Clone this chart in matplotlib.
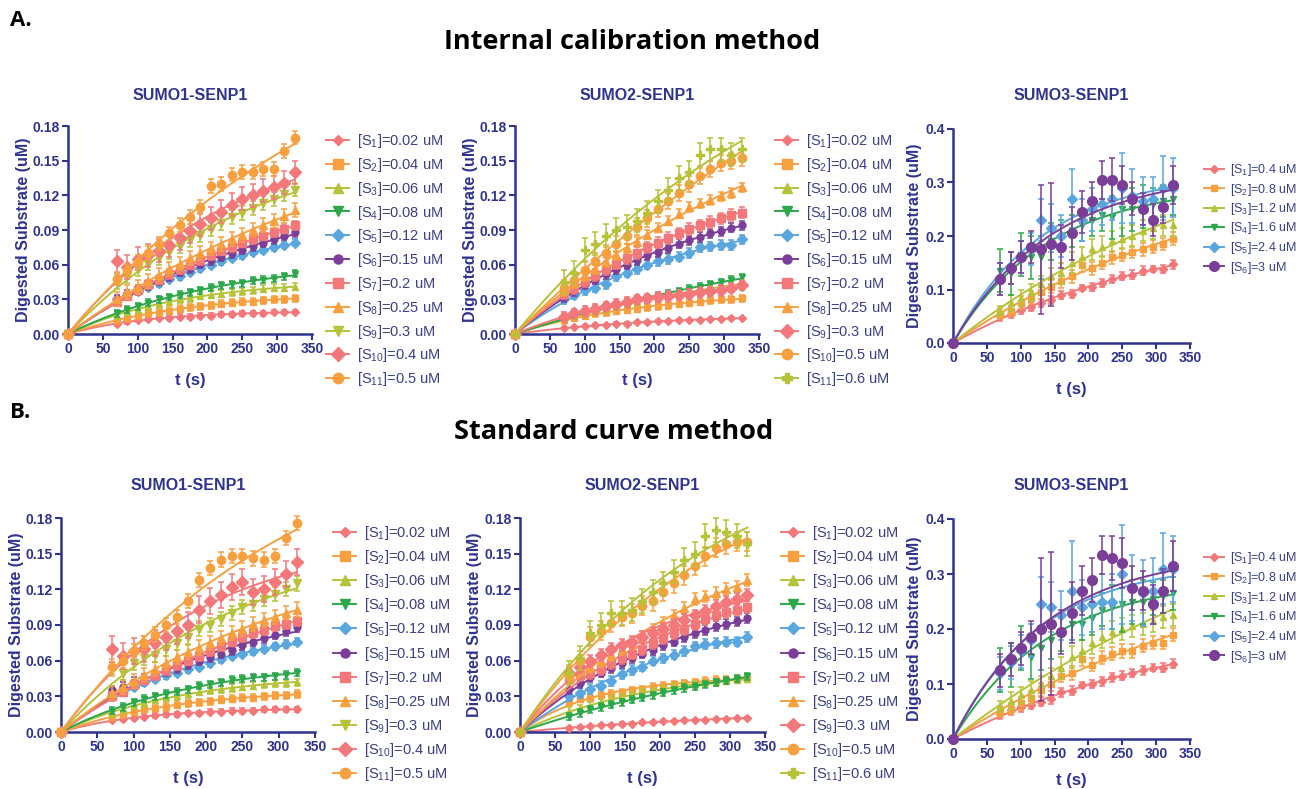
import numpy as np
import matplotlib
matplotlib.use('Agg')
import matplotlib.pyplot as plt

plt.rcParams['font.family'] = ['Liberation Sans', 'DejaVu Sans']
plt.rcParams['mathtext.fontset'] = 'custom'
plt.rcParams['mathtext.rm'] = 'Liberation Sans'
plt.rcParams['mathtext.default'] = 'regular'

NAVY = '#2f3390'
PINK = '#f4787a'
ORANGE = '#f8a040'
YGREEN = '#b6c237'
GREEN = '#2aa84a'
BLUE = '#5aa6de'
PURPLE = '#7a3e98'

# sampling times (s)
t = [0, 70, 85, 100, 115, 130, 145, 160, 175, 190, 205, 220, 235, 250, 265, 280, 295, 310, 325]

# substrate concentrations (uM)
conc_sumo1 = ['0.02', '0.04', '0.06', '0.08', '0.12', '0.15', '0.2', '0.25', '0.3', '0.4', '0.5']
conc_sumo2 = ['0.02', '0.04', '0.06', '0.08', '0.12', '0.15', '0.2', '0.25', '0.3', '0.5', '0.6']
conc_sumo3 = ['0.4', '0.8', '1.2', '1.6', '2.4', '3']

mk_sumo1 = ['D', 's', '^', 'v', 'D', 'o', 's', '^', 'v', 'D', 'o']
col_sumo1 = [PINK, ORANGE, YGREEN, GREEN, BLUE, PURPLE, PINK, ORANGE, YGREEN, PINK, ORANGE]
mk_sumo2 = ['D', 's', '^', 'v', 'D', 'o', 's', '^', 'D', 'o', 'P']
col_sumo2 = [PINK, ORANGE, YGREEN, GREEN, BLUE, PURPLE, PINK, ORANGE, PINK, ORANGE, YGREEN]
mk_sumo3 = ['D', 's', '^', 'v', 'D', 'o']
col_sumo3 = [PINK, ORANGE, YGREEN, GREEN, BLUE, PURPLE]

# A. internal calibration, SUMO1
a1_y = [
    [0, .009, .011, .012, .013, .014, .014, .015, .015, .016, .016, .017, .017, .018, .018, .018, .019, .019, .019],
    [0, .012, .014, .016, .018, .019, .020, .022, .023, .024, .025, .026, .027, .028, .028, .029, .030, .030, .031],
    [0, .016, .019, .021, .024, .026, .028, .030, .031, .033, .034, .035, .036, .037, .038, .039, .040, .040, .041],
    [0, .018, .021, .024, .027, .030, .032, .034, .036, .038, .040, .042, .043, .044, .046, .047, .048, .050, .052],
    [0, .030, .034, .037, .041, .044, .048, .050, .054, .057, .060, .063, .066, .068, .071, .073, .075, .077, .079],
    [0, .030, .034, .038, .042, .046, .050, .054, .057, .061, .064, .067, .070, .073, .076, .079, .082, .085, .088],
    [0, .028, .033, .038, .043, .047, .052, .056, .060, .064, .068, .072, .075, .079, .082, .085, .088, .091, .094],
    [0, .030, .036, .041, .046, .051, .056, .061, .066, .070, .074, .078, .082, .086, .090, .094, .098, .102, .107],
    [0, .045, .050, .056, .061, .066, .071, .076, .081, .086, .091, .096, .101, .105, .109, .113, .117, .121, .125],
    [0, .063, .058, .065, .068, .072, .077, .083, .089, .095, .100, .106, .112, .117, .120, .124, .127, .131, .140],
    [0, .048, .055, .062, .070, .078, .087, .094, .101, .110, .128, .130, .138, .140, .140, .143, .143, .158, .170],
]
a1_err = [.002, .003, .003, .003, .003, .004, .004, .006, .006, .010, .006]

# A. internal calibration, SUMO2
a2_y = [
    [0, .005, .006, .007, .008, .008, .009, .009, .010, .010, .011, .011, .012, .012, .012, .013, .013, .014, .014],
    [0, .012, .014, .016, .018, .019, .020, .021, .022, .023, .024, .025, .026, .027, .028, .029, .030, .030, .031],
    [0, .013, .016, .018, .020, .022, .024, .026, .028, .030, .031, .033, .035, .036, .038, .039, .041, .042, .044],
    [0, .014, .017, .019, .021, .023, .025, .027, .029, .031, .033, .035, .037, .039, .041, .043, .045, .047, .049],
    [0, .030, .034, .038, .040, .043, .050, .053, .056, .060, .063, .065, .067, .070, .075, .076, .077, .077, .082],
    [0, .032, .037, .043, .047, .052, .056, .060, .064, .068, .071, .074, .078, .081, .084, .087, .089, .092, .094],
    [0, .035, .040, .046, .051, .056, .061, .066, .070, .075, .079, .083, .087, .091, .094, .097, .100, .103, .105],
    [0, .038, .044, .050, .056, .062, .068, .074, .080, .086, .092, .098, .104, .110, .113, .116, .119, .122, .127],
    [0, .015, .018, .020, .022, .024, .026, .028, .030, .031, .032, .033, .034, .035, .036, .037, .038, .040, .042],
    [0, .040, .047, .055, .063, .070, .078, .085, .093, .100, .108, .115, .122, .130, .137, .143, .148, .150, .152],
    [0, .045, .053, .073, .078, .085, .090, .093, .098, .105, .115, .125, .135, .140, .155, .160, .160, .155, .160],
]
a2_err = [.001, .003, .003, .003, .004, .004, .005, .004, .004, .007, .010]

# A. internal calibration, SUMO3
a3_y = [
    [0, .050, .055, .062, .068, .075, .080, .090, .092, .103, .105, .112, .120, .125, .128, .135, .138, .138, .147],
    [0, .055, .060, .075, .085, .095, .105, .115, .125, .145, .140, .150, .160, .165, .170, .175, .180, .185, .195],
    [0, .060, .075, .085, .095, .110, .125, .130, .150, .160, .175, .180, .190, .195, .200, .210, .215, .220, .220],
    [0, .135, .130, .165, .160, .160, .190, .200, .210, .220, .230, .240, .235, .250, .250, .255, .260, .265, .270],
    [0, .120, .140, .160, .175, .230, .215, .200, .270, .230, .250, .260, .270, .290, .275, .265, .270, .290, .290],
    [0, .120, .140, .160, .180, .175, .185, .180, .205, .245, .265, .305, .305, .295, .270, .250, .230, .255, .295],
]
a3_err = [
    [0, .008, .008, .008, .008, .008, .008, .008, .008, .006, .008, .008, .008, .008, .008, .008, .006, .008, .008],
    [0, .010, .010, .012, .012, .012, .012, .012, .012, .012, .012, .012, .012, .012, .012, .012, .012, .012, .012],
    [0, .010, .015, .015, .015, .015, .015, .020, .020, .020, .020, .020, .020, .020, .020, .020, .020, .020, .020],
    [0, .040, .040, .040, .040, .040, .035, .030, .030, .030, .030, .030, .040, .050, .040, .040, .030, .030, .030],
    [0, .030, .030, .030, .030, .040, .045, .040, .055, .040, .040, .040, .040, .065, .050, .045, .040, .060, .055],
    [0, .030, .030, .030, .030, .120, .115, .040, .050, .040, .035, .035, .040, .035, .030, .030, .030, .030, .035],
]

# B. standard curve, SUMO1
b1_y = [
    [0, .010, .011, .012, .013, .014, .015, .015, .016, .016, .017, .017, .018, .018, .018, .019, .019, .019, .019],
    [0, .013, .015, .017, .019, .020, .021, .023, .024, .025, .026, .027, .028, .029, .029, .030, .031, .031, .032],
    [0, .016, .019, .022, .024, .027, .029, .030, .032, .034, .035, .036, .037, .038, .039, .040, .041, .041, .042],
    [0, .018, .021, .025, .028, .030, .032, .034, .036, .039, .040, .042, .044, .045, .046, .046, .047, .048, .050],
    [0, .030, .035, .038, .042, .045, .048, .050, .053, .055, .058, .061, .064, .066, .068, .070, .072, .074, .076],
    [0, .035, .038, .042, .045, .048, .051, .054, .057, .060, .063, .066, .069, .073, .076, .079, .082, .085, .088],
    [0, .030, .034, .040, .044, .048, .052, .056, .060, .064, .068, .072, .076, .080, .083, .086, .089, .091, .093],
    [0, .033, .038, .043, .048, .053, .058, .063, .067, .071, .075, .079, .083, .087, .091, .094, .097, .100, .103],
    [0, .053, .050, .058, .062, .065, .070, .075, .080, .087, .090, .095, .100, .105, .108, .112, .116, .120, .125],
    [0, .070, .064, .068, .070, .075, .080, .085, .090, .103, .110, .115, .122, .126, .118, .120, .126, .133, .143],
    [0, .055, .060, .068, .075, .082, .090, .097, .110, .128, .138, .145, .148, .148, .146, .145, .148, .163, .176],
]
b1_err = [.002, .003, .003, .003, .003, .004, .004, .006, .006, .011, .006]

# B. standard curve, SUMO2
b2_y = [
    [0, .003, .004, .005, .006, .006, .007, .007, .008, .008, .009, .009, .010, .010, .010, .011, .011, .012, .012],
    [0, .025, .028, .029, .031, .032, .033, .035, .036, .038, .039, .040, .041, .042, .043, .044, .044, .045, .045],
    [0, .018, .020, .022, .025, .027, .029, .031, .033, .034, .036, .038, .039, .040, .041, .042, .043, .044, .045],
    [0, .013, .016, .019, .021, .023, .025, .027, .029, .031, .033, .035, .037, .038, .040, .042, .043, .045, .047],
    [0, .030, .033, .036, .039, .043, .049, .052, .055, .060, .062, .065, .068, .072, .074, .075, .076, .076, .080],
    [0, .036, .041, .046, .050, .054, .058, .062, .066, .069, .073, .076, .080, .083, .086, .089, .091, .093, .096],
    [0, .045, .048, .050, .053, .058, .062, .066, .070, .075, .079, .083, .087, .091, .095, .098, .101, .103, .105],
    [0, .048, .052, .055, .060, .065, .070, .075, .080, .086, .092, .098, .104, .112, .114, .117, .120, .122, .128],
    [0, .050, .055, .060, .065, .070, .073, .076, .080, .083, .087, .090, .094, .098, .102, .106, .109, .112, .115],
    [0, .048, .060, .080, .085, .092, .097, .100, .106, .110, .118, .125, .132, .140, .148, .155, .158, .160, .160],
    [0, .050, .062, .083, .090, .100, .100, .103, .110, .118, .125, .135, .145, .150, .165, .170, .168, .165, .158],
]
b2_err = [.001, .003, .003, .003, .004, .004, .005, .005, .005, .008, .010]

# B. standard curve, SUMO3
b3_y = [
    [0, .045, .052, .058, .062, .068, .072, .085, .088, .098, .100, .105, .112, .115, .120, .125, .130, .130, .137],
    [0, .050, .055, .065, .075, .090, .100, .115, .120, .145, .135, .148, .155, .160, .160, .170, .175, .175, .190],
    [0, .060, .070, .080, .090, .100, .115, .130, .150, .160, .175, .185, .195, .200, .205, .210, .215, .222, .225],
    [0, .125, .135, .165, .150, .165, .180, .190, .210, .210, .220, .235, .240, .245, .250, .250, .255, .260, .265],
    [0, .120, .140, .160, .180, .245, .240, .225, .270, .240, .245, .250, .250, .300, .275, .265, .270, .310, .310],
    [0, .125, .145, .165, .185, .200, .210, .195, .230, .270, .290, .335, .330, .320, .275, .270, .245, .270, .315],
]
b3_err = [
    [0, .008, .008, .008, .008, .008, .008, .008, .008, .006, .008, .008, .008, .008, .008, .008, .006, .008, .008],
    [0, .010, .010, .012, .012, .012, .012, .012, .012, .012, .012, .012, .012, .012, .012, .012, .012, .012, .012],
    [0, .010, .015, .015, .015, .015, .015, .020, .020, .020, .020, .020, .020, .020, .020, .020, .020, .020, .020],
    [0, .040, .040, .040, .040, .040, .035, .030, .030, .030, .030, .030, .040, .050, .040, .040, .030, .030, .030],
    [0, .030, .030, .030, .030, .050, .045, .045, .090, .050, .050, .050, .050, .090, .060, .060, .060, .065, .060],
    [0, .030, .030, .030, .030, .130, .130, .040, .055, .045, .040, .035, .040, .045, .040, .035, .035, .040, .045],
]


def fit_assoc(x, y):
    # one-phase association fit y = A(1-exp(-kx)), grid over k
    x = np.asarray(x, float)
    y = np.asarray(y, float)
    best = None
    for k in np.logspace(-5, -1.3, 400):
        f = 1 - np.exp(-k * x)
        A = f @ y / (f @ f)
        r = ((A * f - y) ** 2).sum()
        if best is None or r < best[0]:
            best = (r, A, k)
    xx = np.linspace(0, x.max(), 120)
    return xx, best[1] * (1 - np.exp(-best[2] * xx))


def panel(fig, rect, ys, errs, concs, mks, cols, ymax, ystep, yfmt,
          title, leg_xy, leg_fs, leg_sp, ylab_dx, tit_dy, xlab_dy=39):
    ax = fig.add_axes(rect)
    tt = np.array(t)
    handles = []
    for i, y in enumerate(ys):
        e = errs[i]
        if np.isscalar(e):
            e = [0] + [e] * (len(y) - 1)
        ms = 4 if i == 0 else (5 if i < 6 else 6)
        if len(ys) == 6 and i == 5:
            ms = 7
        xx, yy = fit_assoc(tt, y)
        ax.plot(xx, yy, color=cols[i], lw=1.4, zorder=2 + i)
        ax.errorbar(tt, y, yerr=e, fmt='none', ecolor=cols[i], elinewidth=1.1,
                    capsize=2.5, capthick=1.1, zorder=2 + i, clip_on=False)
        ax.plot(tt, y, ls='none', marker=mks[i], ms=ms, color=cols[i],
                mec=cols[i], zorder=3 + i, clip_on=False)
        hms = ms + 1.5 if len(ys) > 6 else ms
        h, = ax.plot([], [], color=cols[i], lw=1.4, marker=mks[i],
                     ms=hms, label='[S$_{%d}$]=%s uM' % (i + 1, concs[i]))
        handles.append(h)
    ax.set_xlim(0, 350)
    ax.set_ylim(0, ymax)
    ax.set_xticks(range(0, 351, 50))
    ax.set_yticks(np.arange(0, ymax + 1e-9, ystep))
    ax.set_yticklabels([yfmt % v for v in np.arange(0, ymax + 1e-9, ystep)])
    for s in ['top', 'right']:
        ax.spines[s].set_visible(False)
    for s in ['left', 'bottom']:
        ax.spines[s].set_color(NAVY)
        ax.spines[s].set_linewidth(1.8)
    ax.tick_params(colors=NAVY, width=1.5, length=4, labelsize=10, pad=2)
    for lab in ax.get_xticklabels() + ax.get_yticklabels():
        lab.set_fontweight('bold')
    ax.set_xlabel('t (s)', fontsize=12, fontweight='bold', color=NAVY)
    ax.set_ylabel('Digested Substrate (uM)', fontsize=11.5, fontweight='bold', color=NAVY)
    wpx = rect[2] * 1303
    hpx = rect[3] * 789
    ax.xaxis.set_label_coords(0.5, -xlab_dy / hpx)
    ax.yaxis.set_label_coords(-ylab_dx / wpx, 0.5)
    ax.text(0.5, 1 + tit_dy / hpx, title, transform=ax.transAxes, ha='center',
            va='center', fontsize=11.5, fontweight='bold', color=NAVY)
    leg = ax.legend(handles=handles, loc='upper left',
                    bbox_to_anchor=(leg_xy[0] / 1303, 1 - leg_xy[1] / 789),
                    bbox_transform=fig.transFigure, frameon=False,
                    fontsize=leg_fs, labelspacing=leg_sp, handlelength=1.6,
                    handletextpad=0.5, borderpad=0, borderaxespad=0)
    for tx in leg.get_texts():
        tx.set_color('#3a4088')
    return ax


def rect_px(x0, x1, yt, yb):
    return [x0 / 1303, 1 - yb / 789, (x1 - x0) / 1303, (yb - yt) / 789]


fig = plt.figure(figsize=(13.03, 7.89), dpi=100)

panel(fig, rect_px(68, 312, 126, 334), a1_y, a1_err, conc_sumo1, mk_sumo1, col_sumo1,
      0.18, 0.03, '%.2f', 'SUMO1-SENP1', (326, 132), 10.5, 0.40, 37, 31)
panel(fig, rect_px(515, 759, 126, 334), a2_y, a2_err, conc_sumo2, mk_sumo2, col_sumo2,
      0.18, 0.03, '%.2f', 'SUMO2-SENP1', (775, 132), 10.5, 0.40, 37, 31)
panel(fig, rect_px(953, 1190, 129, 343), a3_y, a3_err, conc_sumo3, mk_sumo3, col_sumo3,
      0.4, 0.1, '%.1f', 'SUMO3-SENP1', (1204, 162), 9, 0.28, 31, 34)
panel(fig, rect_px(61, 315, 518, 732), b1_y, b1_err, conc_sumo1, mk_sumo1, col_sumo1,
      0.18, 0.03, '%.2f', 'SUMO1-SENP1', (333, 524), 10.5, 0.42, 37, 33)
panel(fig, rect_px(520, 765, 518, 732), b2_y, b2_err, conc_sumo2, mk_sumo2, col_sumo2,
      0.18, 0.03, '%.2f', 'SUMO2-SENP1', (781, 524), 10.5, 0.42, 38, 33)
panel(fig, rect_px(953, 1190, 519, 739), b3_y, b3_err, conc_sumo3, mk_sumo3, col_sumo3,
      0.4, 0.1, '%.1f', 'SUMO3-SENP1', (1204, 550), 9, 0.30, 31, 34, xlab_dy=34)

big = dict(family=['Open Sans', 'Lato', 'DejaVu Sans'], fontweight='bold', color='black')
fig.text(10 / 1303, 1 - 21 / 789, 'A.', fontsize=16, va='center', ha='left', **big)
fig.text(632 / 1303, 1 - 42 / 789, 'Internal calibration method', fontsize=19.5,
         va='center', ha='center', **big)
fig.text(10 / 1303, 1 - 413 / 789, 'B.', fontsize=16, va='center', ha='left', **big)
fig.text(614 / 1303, 1 - 432 / 789, 'Standard curve method', fontsize=19.5,
         va='center', ha='center', **big)

fig.savefig('out.png', dpi=100)
